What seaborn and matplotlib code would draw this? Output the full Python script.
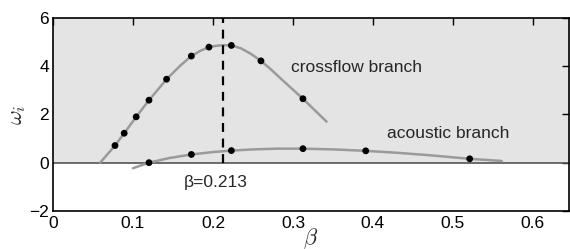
import numpy as np
import pandas as pd
import matplotlib
matplotlib.use("Agg")
import matplotlib.pyplot as plt
import seaborn as sns

# crossflow branch: computed points and fitted curve
cross_beta = [0.0775, 0.089, 0.104, 0.120, 0.142, 0.173, 0.195, 0.223, 0.260, 0.3125]
cross_omega = [0.71, 1.22, 1.90, 2.59, 3.46, 4.42, 4.79, 4.86, 4.22, 2.65]
cross_curve_beta = [0.059, 0.0775, 0.089, 0.104, 0.120, 0.142, 0.160, 0.173, 0.185,
                    0.195, 0.205, 0.213, 0.223, 0.235, 0.247, 0.260, 0.272, 0.285,
                    0.3125, 0.342]
cross_curve_omega = [0.0, 0.71, 1.22, 1.90, 2.59, 3.46, 4.05, 4.42, 4.65,
                     4.79, 4.85, 4.87, 4.86, 4.74, 4.52, 4.22, 3.88, 3.48,
                     2.65, 1.70]

# acoustic branch
ac_beta = [0.120, 0.173, 0.223, 0.3125, 0.391, 0.521]
ac_omega = [0.0, 0.34, 0.50, 0.58, 0.49, 0.16]
ac_curve_beta = [0.100, 0.120, 0.145, 0.173, 0.200, 0.223, 0.250, 0.280, 0.3125,
                 0.350, 0.391, 0.430, 0.470, 0.521, 0.561]
ac_curve_omega = [-0.23, 0.0, 0.19, 0.34, 0.44, 0.50, 0.55, 0.58, 0.58,
                  0.55, 0.49, 0.41, 0.31, 0.16, 0.07]

beta_crit = 0.213

sns.set_style("white")
plt.rcParams["font.family"] = ["Liberation Sans", "DejaVu Sans"]
plt.rcParams["mathtext.fontset"] = "cm"

fig = plt.figure(figsize=(5.7, 2.49), dpi=100)
ax = fig.add_axes([0.093, 0.153, 0.905, 0.775])

xmax = 0.645
ax.axhspan(0, 6, color="#e4e4e4", zorder=0, lw=0)
ax.axhline(0, color="#555555", lw=1.2, zorder=1)

sns.lineplot(x=cross_curve_beta, y=cross_curve_omega, ax=ax, color="#9a9a9a",
             lw=1.8, sort=False, zorder=2)
sns.lineplot(x=ac_curve_beta, y=ac_curve_omega, ax=ax, color="#9a9a9a",
             lw=1.8, sort=False, zorder=2)
sns.scatterplot(x=cross_beta, y=cross_omega, ax=ax, color="black", s=24,
                edgecolor="none", zorder=3)
sns.scatterplot(x=ac_beta, y=ac_omega, ax=ax, color="black", s=24,
                edgecolor="none", zorder=3)

ax.plot([beta_crit, beta_crit], [0, 6], color="black", lw=1.6,
        ls=(0, (4, 3)), zorder=4)

fs = 12.5
ax.text(0.2975, 3.93, "crossflow branch", fontsize=fs, va="center")
ax.text(0.4175, 1.19, "acoustic branch", fontsize=fs, va="center")
ax.text(0.164, -0.84, "\u03b2=0.213", fontsize=fs, va="center")

ax.set_xlim(0, xmax)
ax.set_ylim(-2, 6)
ax.set_xticks([0, 0.1, 0.2, 0.3, 0.4, 0.5, 0.6])
ax.set_xticklabels(["0", "0.1", "0.2", "0.3", "0.4", "0.5", "0.6"])
ax.set_yticks([-2, 0, 2, 4, 6])
ax.set_yticklabels(["\u22122", "0", "2", "4", "6"])
ax.tick_params(direction="in", top=True, right=True, length=5, width=1,
               labelsize=fs, colors="black")
ax.tick_params(axis="x", pad=4)
ax.tick_params(axis="y", pad=3)
for s in ax.spines.values():
    s.set_color("black")
    s.set_linewidth(1.2)

ax.set_xlabel(r"$\beta$", fontsize=16, labelpad=-4)
ax.set_ylabel(r"$\omega_i$", fontsize=16, labelpad=1)

fig.savefig("out.png", dpi=100)
